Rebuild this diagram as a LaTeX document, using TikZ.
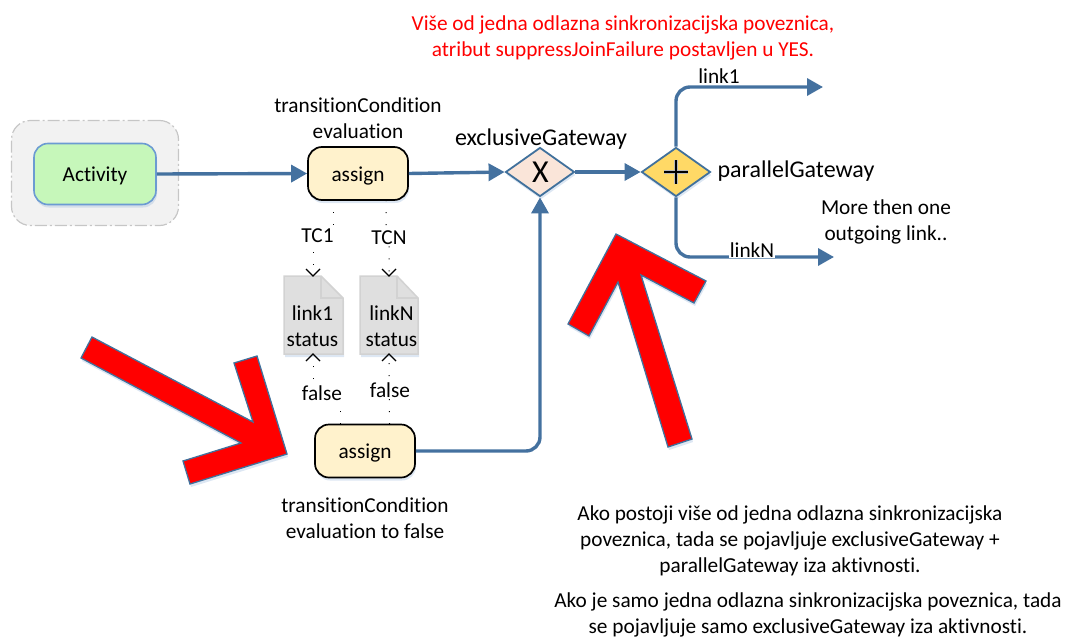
\documentclass[tikz,border=0pt]{standalone}
\usepackage{fontspec}
\setmainfont[Ligatures=NoCommon]{Carlito}
\usetikzlibrary{arrows.meta,shapes.geometric,shadows}
\definecolor{flowblue}{HTML}{44719F}
\definecolor{edgeblue}{HTML}{41719C}
\definecolor{softshadow}{HTML}{9DB9DC}
\definecolor{assignfill}{HTML}{FFF2CC}
\definecolor{actfill}{HTML}{C6F7BA}
\definecolor{actedge}{HTML}{6C9BD2}
\definecolor{xfill}{HTML}{FAE5D9}
\definecolor{plusfill}{HTML}{FFD966}
\tikzset{
  softdrop/.style={drop shadow={shadow xshift=1pt,shadow yshift=-3pt,fill=softshadow,opacity=.35}},
  lbl/.style={font=\fontsize{21.3}{26}\selectfont,align=center,text=black,inner sep=0pt},
  biglbl/.style={font=\fontsize{24}{26}\selectfont,align=center,text=black,inner sep=0pt},
  patch/.style={lbl,fill=white,inner xsep=1pt,inner ysep=1pt},
  flow/.style={draw=flowblue,line width=3.4pt,rounded corners=14pt,-{Triangle[length=16pt,width=17pt]}},
  dotted link/.style={draw=black,line width=1pt,dash pattern=on 1pt off 11pt},
  vee/.style={draw=black,line width=1.2pt},
  taskbox/.style={rectangle,rounded corners=14pt,draw=black,line width=1.7pt,fill=assignfill,minimum width=100pt,minimum height=53pt,lbl,text height=18pt,text depth=3pt,softdrop},
  gate/.style={diamond,shape aspect=1.4,draw=edgeblue,line width=1.8pt,minimum width=69pt,minimum height=49pt,inner sep=0pt,softdrop},
  redarrow/.style={draw=edgeblue,line width=1.3pt,fill=red,line join=miter,softdrop},
  docshape/.style={draw=gray!35,line width=1.5pt,fill=gray!25,softdrop},
}
\begin{document}
\begin{tikzpicture}[x=1pt,y=-1pt]
\useasboundingbox (0,0) rectangle (1068,637);
% container
\node (grp) [rectangle,rounded corners=19pt,draw=gray!45,fill=gray!10,line width=1.2pt,dash pattern=on 12pt off 3pt on 2pt off 3pt,minimum width=167pt,minimum height=105pt] at (95,173) {};
\node (act) [rectangle,rounded corners=14pt,draw=actedge,fill=actfill,line width=1.6pt,minimum width=122pt,minimum height=61pt,lbl,text height=18pt,text depth=3pt,softdrop] at (95,174) {Activity};
\node (a1) [taskbox] at (358,173.5) {assign};
\node (a2) [taskbox] at (365,451) {assign};
\node (gx) [gate,fill=xfill] at (540,172) {};
\node (gp) [gate,fill=plusfill] at (676,172) {};
\node (gxm) [font=\fontsize{32}{32}\selectfont,inner sep=0pt] at (540.5,172) {X};
\draw[line width=4.5pt,gray!55] (664,172) -- (688,172) (676,160) -- (676,184);
\draw[line width=2pt,black] (664,172) -- (688,172) (676,160) -- (676,184);
% documents
\path[docshape] (284,276) -- (321,276) -- (343,298) -- (343,354) -- (284,354) -- cycle;
\draw[draw=gray!35,line width=1.5pt] (321,276) -- (321,298) -- (343,298);
\path[docshape] (360,276) -- (397,276) -- (418,298) -- (418,354) -- (360,354) -- cycle;
\draw[draw=gray!35,line width=1.5pt] (397,276) -- (397,298) -- (418,298);
\node (d1) [lbl] at (312.5,326) {link1\\status};
\node (d2) [lbl] at (391.5,326) {linkN\\status};
% free ends
\coordinate (d1t) at (313,276);
\coordinate (d2t) at (389,276);
\coordinate (d1b) at (313,354);
\coordinate (d2b) at (389,354);
\coordinate (end1) at (823,87);
\coordinate (endn) at (834,257);
% flows
\draw[flow] (act.east) -- (a1.west);
\draw[flow] (a1.east) -- (gx.west);
\draw[flow] (gx.east) -- (gp.west);
\draw[flow] (gp.north) |- (end1);
\draw[flow] (gp.south) |- (endn);
\draw[flow] (a2.east) -| (gx.south);
% dotted
\draw[dotted link] (333,200) -- (333,236) -- (313,236) -- (d1t);
\draw[dotted link] (386,200) -- (386,236) -- (389,238) -- (d2t);
\draw[dotted link] (340,424) -- (340,392) -- (313,392) -- (d1b);
\draw[dotted link] (389.5,424) -- (d2b);
\draw[vee] (306,269) -- (313,276) -- (320,269);
\draw[vee] (382,269) -- (389,276) -- (396,269);
\draw[vee] (306,361) -- (313,354) -- (320,361);
\draw[vee] (382,361) -- (389,354) -- (396,361);
% labels on connectors
\node[patch] at (317.5,236) {TC1};
\node[patch] at (389,238) {TCN};
\node[patch] at (322,393) {false};
\node[patch] at (390,390) {false};
\node[patch,inner ysep=0pt] at (719,76) {link1};
\node[patch] at (752,250) {linkN};
% red arrows
\path[redarrow] (92,337) -- (253,422) -- (234,363) -- (257,356) -- (287,454) -- (190,484) -- (183,461) -- (241,443) -- (81,358) -- cycle;
\path[redarrow] (616,234) -- (706,281) -- (694,303) -- (641,275) -- (692,439) -- (668,447) -- (618,282) -- (589,336) -- (568,324) -- cycle;
% texts
\node[lbl] (t1) at (358,118) {transitionCondition\\evaluation};
\node[lbl] (t2) at (365,518) {transitionCondition\\evaluation to false};
\node[biglbl] (t3) at (541,139) {exclusiveGateway};
\node[biglbl] (t4) at (796,171) {parallelGateway};
\node[lbl] (t5) at (886,221.5) {More then one\\outgoing link..};
\node[lbl,text=red] (t6) at (623,37.5) {Više od jedna odlazna sinkronizacijska poveznica,\\atribut suppressJoinFailure postavljen u YES.};
\node[lbl] (t7) at (790,541) {Ako postoji više od jedna odlazna sinkronizacijska\\poveznica, tada se pojavljuje exclusiveGateway +\\parallelGateway iza aktivnosti.};
\node[lbl] (t8) at (808,615) {Ako je samo jedna odlazna sinkronizacijska poveznica, tada\\se pojavljuje samo exclusiveGateway iza aktivnosti.};
\end{tikzpicture}
\end{document}
